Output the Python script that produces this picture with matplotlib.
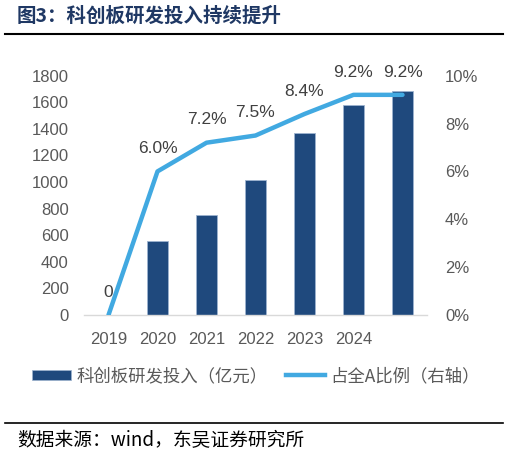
import matplotlib
matplotlib.use("Agg")
import matplotlib.pyplot as plt
from matplotlib.lines import Line2D
from matplotlib.patches import Patch

plt.rcParams['font.family'] = ['Liberation Sans', 'Noto Sans CJK SC', 'DejaVu Sans']

categories = ["2019", "2020", "2021", "2022", "2023", "2024", ""]
rd_invest = [0, 557, 752, 1013, 1370, 1582, 1682]
share_pct = [0, 6.0, 7.2, 7.5, 8.4, 9.2, 9.2]
share_labels = ["0", "6.0%", "7.2%", "7.5%", "8.4%", "9.2%", "9.2%"]
left_ticks = [0, 200, 400, 600, 800, 1000, 1200, 1400, 1600, 1800]
right_ticks = [0, 2, 4, 6, 8, 10]

BAR = "#1F497D"
LINE = "#41A9E1"
GRAY = "#595959"

fig = plt.figure(figsize=(5.09, 4.57), dpi=100)
ax = fig.add_axes([84/509, 1-315/457, 343/509, (315-75.7)/457])
x = list(range(len(categories)))
ax.bar(x, rd_invest, width=0.41, color=BAR, edgecolor="#9DB3CF", linewidth=0.6, zorder=2)
ax.set_xlim(-0.5, len(categories)-0.5)
ax.set_ylim(0, 1800)
ax.set_yticks(left_ticks)
ax.set_xticks(x)
ax.set_xticklabels(categories)
ax.tick_params(axis='both', length=0, labelsize=12, colors=GRAY)
ax.tick_params(axis='y', pad=11)
ax.tick_params(axis='x', pad=12)
for s in ['top', 'right', 'left']:
    ax.spines[s].set_visible(False)
ax.spines['bottom'].set_color("#D9D9D9")
ax.spines['bottom'].set_linewidth(1.0)

ax2 = ax.twinx()
ax2.plot(x, share_pct, color=LINE, linewidth=3.2, solid_capstyle='round', zorder=3)
ax2.set_ylim(0, 10)
ax2.set_yticks(right_ticks)
ax2.set_yticklabels([f"{t}%" for t in right_ticks])
ax2.tick_params(axis='y', length=0, labelsize=12, colors=GRAY, pad=13)
for s in ['top', 'right', 'left', 'bottom']:
    ax2.spines[s].set_visible(False)
for xi, v, lab in zip(x, share_pct, share_labels):
    ax2.annotate(lab, (xi, v), xytext=(0, 11), textcoords='offset points',
                 ha='center', va='bottom', fontsize=12.5, color="#404040")

handles = [Patch(facecolor=BAR, edgecolor="#9DB3CF", linewidth=0.5),
           Line2D([0], [0], color=LINE, linewidth=3.2)]
labels = ["科创板研发投入（亿元）", "占全A比例（右轴）"]
fig.legend(handles, labels, loc='center', bbox_to_anchor=(256/509, 1-376/457), ncol=2,
           frameon=False, labelcolor=GRAY, handlelength=2.25,
           handleheight=0.55, columnspacing=1.1, handletextpad=0.3,
           prop={'family': ['Noto Sans CJK SC', 'DejaVu Sans'], 'size': 12.5})

fig.text(17/509, 1-16/457, "图3：科创板研发投入持续提升", ha='left', va='center',
         fontsize=14, fontweight='bold', color="#1F3864",
         family=['Noto Sans CJK SC', 'DejaVu Sans'])
fig.add_artist(Line2D([5/509, 503/509], [1-34/457, 1-34/457], color='black', linewidth=1.5))
fig.add_artist(Line2D([5/509, 503/509], [1-423/457, 1-423/457], color='black', linewidth=1.2))
fig.text(17/509, 1-441/457, "数据来源：wind，东吴证券研究所", ha='left', va='center',
         fontsize=13.5, color='black', family=['Noto Sans CJK SC', 'DejaVu Sans'])

fig.savefig("out.png", dpi=100)
